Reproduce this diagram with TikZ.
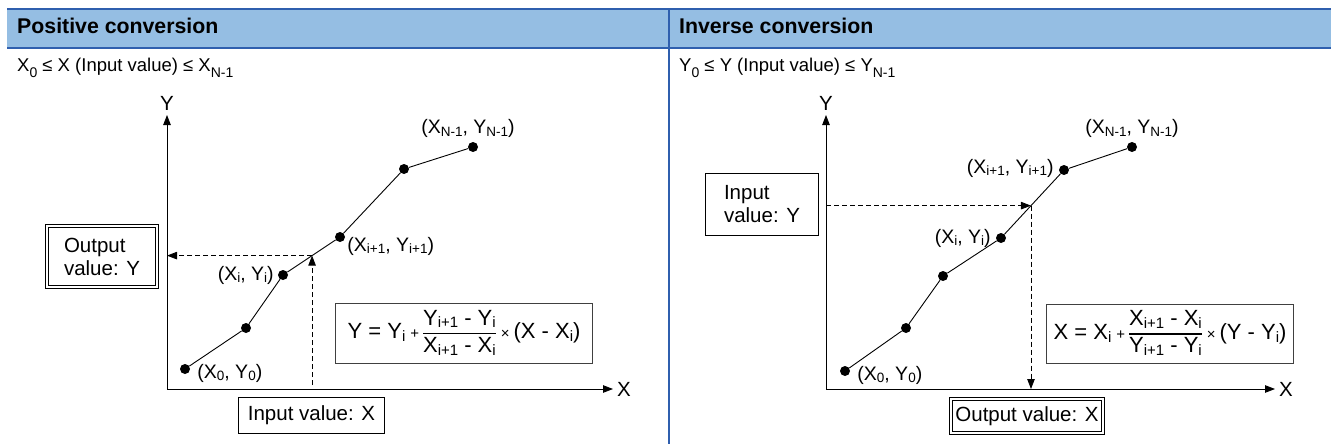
\documentclass[tikz,border=0pt]{standalone}
\usepackage{amsmath}
\usepackage{fontspec}
\setmainfont{Liberation Sans}
\usetikzlibrary{positioning,arrows.meta,calc}
\definecolor{headblue}{HTML}{95BEE3}
\definecolor{ruleblue}{HTML}{2F5FAE}
% small index as printed in the point labels
\newcommand{\ix}[1]{\raisebox{-0.25ex}{\fontsize{13.5}{13.5}\selectfont #1}}
% same index inside the formulas
\newcommand{\fx}[1]{\raisebox{-0.25ex}{\fontsize{15}{15}\selectfont #1}}
% real subscript of the range lines
\newcommand{\sx}[1]{\raisebox{-0.6ex}{\fontsize{14}{14}\selectfont #1}}
\newcommand{\fracrow}[2]{{\setlength{\arrayrulewidth}{1.3pt}\begin{tabular}{@{}c@{}}#1\\\hline #2\end{tabular}}}
\newcommand{\smallop}[1]{\hspace{5pt}{\fontsize{15}{15}\selectfont #1}\hspace{4pt}}
\tikzset{
  dot/.style={circle, fill=black, inner sep=0pt, minimum size=10pt},
  axis/.style={{Triangle[length=10pt,width=7.5pt]}-{Triangle[length=10pt,width=7.5pt]}, line width=0.9pt},
  curve/.style={line width=0.9pt},
  dashline/.style={-{Triangle[length=10pt,width=7.5pt]}, dash pattern=on 5pt off 3pt, line width=0.8pt},
  valbox/.style={draw, line width=0.9pt, align=left, inner xsep=4pt, inner ysep=5pt},
  outbox/.style={draw, double, double distance=2pt, line width=0.8pt, align=left, inner xsep=3pt, inner ysep=5pt},
  formbox/.style={draw=black!75, line width=1.2pt, inner sep=3pt, font=\fontsize{22}{26}\selectfont},
  ptlabel/.style={font=\fontsize{19.5}{19.5}\selectfont, inner sep=1pt},
  headtext/.style={font=\fontsize{21.3}{21.3}\selectfont\bfseries, anchor=base west, inner sep=0pt},
  subtext/.style={font=\fontsize{18.5}{18.5}\selectfont, anchor=base west, inner sep=0pt}
}

\begin{document}
\begin{tikzpicture}[x=1pt, y=-1pt, every node/.style={font=\fontsize{20.5}{23}\selectfont}]
  \useasboundingbox (0,0) rectangle (1331,444);
  % table frame
  \fill[headblue] (7,9) rectangle (1331,48);
  \draw[ruleblue, line width=2pt] (7,9) -- (1331,9) (7,48) -- (1331,48) (669,9) -- (669,444);
  \node[headtext] (h1) at (17,34) {Positive conversion};
  \node[headtext] (h2) at (679,34) {Inverse conversion};
  \node[subtext] (r1) at (17,72) {X\sx{0} ≤ X (Input value) ≤ X\sx{N-1}};
  \node[subtext] (r2) at (679,72) {Y\sx{0} ≤ Y (Input value) ≤ Y\sx{N-1}};

  % positive conversion
  \coordinate (o1) at (167,389);
  \coordinate (yt1) at (167,115);
  \coordinate (xe1) at (613,389);
  \draw[axis] (yt1) |- (xe1);
  \node (ylab1) at (167,103) {Y};
  \node (xlab1) at (624,389) {X};
  \node[dot] (a0) at (185,369) {};
  \node[dot] (a1) at (246,328) {};
  \node[dot] (a2) at (283,275) {};
  \node[dot] (a3) at (340,237) {};
  \node[dot] (a4) at (404,169) {};
  \node[dot] (a5) at (473,147) {};
  \draw[curve] (a0) -- (a1) -- (a2) -- (a3) -- (a4) -- (a5);
  \node[ptlabel, right=6pt of a0, yshift=-4pt] (l0) {(X\ix{0}, Y\ix{0})};
  \node[ptlabel, left=3pt of a2] (l2) {(X\ix{i}, Y\ix{i})};
  \node[ptlabel, right=1pt of a3, yshift=-9pt] (l3) {(X\ix{i+1}, Y\ix{i+1})};
  \node[ptlabel, above=3pt of a5, xshift=-5pt] (l5) {(X\ix{N-1}, Y\ix{N-1})};
  \coordinate (m1) at ($(a2)!.51!(a3)$);
  \draw[dashline] (m1 |- o1) ++(0,-4) -- (m1);
  \draw[dashline] (m1) -- (m1 -| o1);
  \node[outbox, minimum width=110pt, minimum height=61pt] (out1) at (102,256.5) {Output\\value: Y};
  \node[valbox, minimum width=146pt, minimum height=36pt, align=center] (in1) at (311.5,415.5) {Input value: X};
  \node[formbox, minimum width=257pt, minimum height=60pt] (f1) at (464,333.5)
    {Y = Y\fx{i}\smallop{+}\fracrow{Y\fx{i+1} - Y\fx{i}}{X\fx{i+1} - X\fx{i}}\smallop{×}(X - X\fx{i})};

  % inverse conversion
  \coordinate (o2) at (826,389);
  \coordinate (yt2) at (826,115);
  \coordinate (xe2) at (1275,389);
  \draw[axis] (yt2) |- (xe2);
  \node (ylab2) at (826,103) {Y};
  \node (xlab2) at (1286,389) {X};
  \node[dot] (b0) at (845,371) {};
  \node[dot] (b1) at (906,328) {};
  \node[dot] (b2) at (943,276) {};
  \node[dot] (b3) at (1001,238) {};
  \node[dot] (b4) at (1064,170) {};
  \node[dot] (b5) at (1132,147) {};
  \draw[curve] (b0) -- (b1) -- (b2) -- (b3) -- (b4) -- (b5);
  \node[ptlabel, right=6pt of b0, yshift=-4pt] (k0) {(X\ix{0}, Y\ix{0})};
  \node[ptlabel, left=4pt of b3] (k3) {(X\ix{i}, Y\ix{i})};
  \node[ptlabel, left=4pt of b4, yshift=2pt] (k4) {(X\ix{i+1}, Y\ix{i+1})};
  \node[ptlabel, above=3pt of b5] (k5) {(X\ix{N-1}, Y\ix{N-1})};
  \coordinate (m2) at ($(b3)!.476!(b4)$);
  \draw[dashline] (m2 -| o2) -- (m2);
  \draw[dashline] (m2) -- (m2 |- o2);
  \node[valbox, minimum width=113pt, minimum height=62pt] (in2) at (762,204.5) {Input\\value: Y};
  \node[outbox, minimum width=152pt, minimum height=34pt, align=center] (out2) at (1027,416) {Output value: X};
  \node[formbox, minimum width=247pt, minimum height=59pt] (f2) at (1170,334)
    {X = X\fx{i}\smallop{+}\fracrow{X\fx{i+1} - X\fx{i}}{Y\fx{i+1} - Y\fx{i}}\smallop{×}(Y - Y\fx{i})};
\end{tikzpicture}
\end{document}
